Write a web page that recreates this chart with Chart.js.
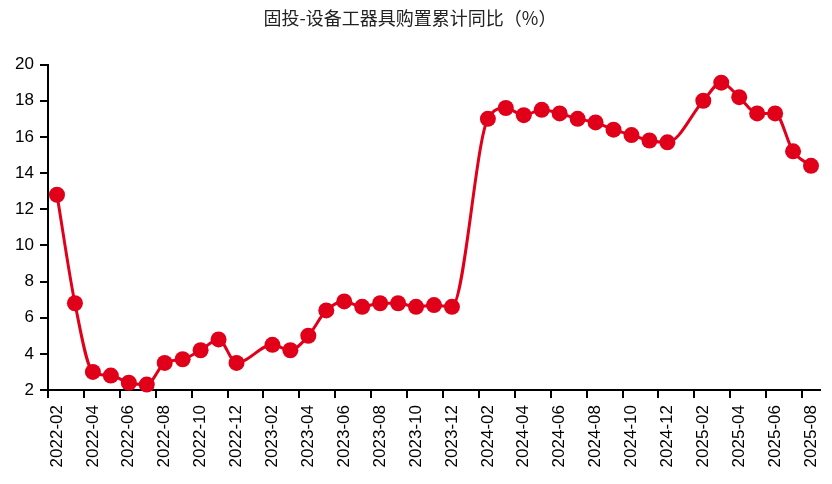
<!DOCTYPE html>
<html><head><meta charset="utf-8">
<script src="https://cdn.jsdelivr.net/npm/chart.js@4/dist/chart.umd.min.js"></script>
<style>html,body{margin:0;padding:0;background:#fff}#wrap{width:832px;height:484px}</style>
</head><body><div id="wrap"><canvas id="c" width="832" height="484"></canvas></div>
<script>
const categories = [
 '2022-02','2022-03','2022-04','2022-05','2022-06','2022-07','2022-08','2022-09','2022-10','2022-11','2022-12',
 '2023-01','2023-02','2023-03','2023-04','2023-05','2023-06','2023-07','2023-08','2023-09','2023-10','2023-11','2023-12',
 '2024-01','2024-02','2024-03','2024-04','2024-05','2024-06','2024-07','2024-08','2024-09','2024-10','2024-11','2024-12',
 '2025-01','2025-02','2025-03','2025-04','2025-05','2025-06','2025-07','2025-08'];
const values = [
 12.8,6.8,3.0,2.8,2.4,2.3,3.5,3.7,4.2,4.8,3.5,
 null,4.5,4.2,5.0,6.4,6.9,6.6,6.8,6.8,6.6,6.7,6.6,
 null,17.0,17.6,17.2,17.5,17.3,17.0,16.8,16.4,16.1,15.8,15.7,
 null,18.0,19.0,18.2,17.3,17.3,15.2,14.4];
const yTicks = [2,4,6,8,10,12,14,16,18,20];
const titleText = '固投-设备工器具购置累计同比（%）';
const red = '#e0001a';
const font = {family:'Arial, "Liberation Sans", sans-serif', size:17};
new Chart(document.getElementById('c'), {
  type:'line',
  data:{labels:categories, datasets:[{data:values, borderColor:red, backgroundColor:red,
    borderWidth:3, pointRadius:8, pointBorderWidth:0, pointBackgroundColor:red,
    tension:0.4, cubicInterpolationMode:'monotone', spanGaps:true, clip:false}]},
  options:{
    responsive:false, animation:false, devicePixelRatio:1,
    layout:{autoPadding:false, padding:{left:0,right:12,top:0,bottom:0}},
    plugins:{legend:{display:false}, tooltip:{enabled:false},
      title:{display:true, text:titleText, color:'#222',
        font:{family:'"Noto Sans CJK SC", sans-serif', size:18, weight:'normal'},
        padding:{top:7,bottom:36}}},
    scales:{
      x:{offset:true,
        grid:{offset:true, drawOnChartArea:false, drawTicks:true, tickLength:8, lineWidth:2,
          color:ctx => (ctx.index % 2 === 0 && ctx.index < categories.length) ? '#000' : 'rgba(0,0,0,0)'},
        border:{display:true, color:'#000', width:2},
        ticks:{autoSkip:false, maxRotation:90, minRotation:90, color:'#000', font:font, padding:7,
          callback:(v,i) => i % 2 === 0 ? categories[i] : ''},
        afterFit:s => { s.height = 94; s.paddingLeft = 0; s.paddingRight = 0; }},
      y:{min:2, max:20,
        afterBuildTicks:s => { s.ticks = yTicks.map(v => ({value:v})); },
        grid:{drawOnChartArea:false, drawTicks:true, tickLength:8, lineWidth:2, color:'#000'},
        border:{display:true, color:'#000', width:2},
        ticks:{color:'#000', font:font, padding:6},
        afterFit:s => { s.width = 48; s.paddingTop = 0; s.paddingBottom = 0; }}
    }
  }
});
</script></body></html>
